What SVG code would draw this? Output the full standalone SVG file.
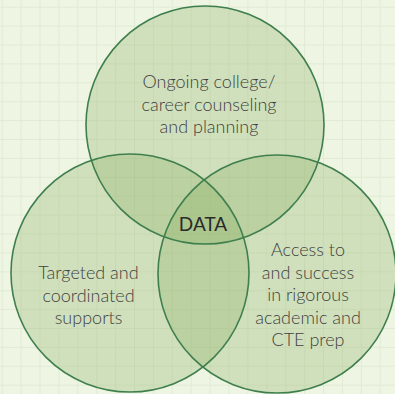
<svg xmlns="http://www.w3.org/2000/svg" width="395" height="394" viewBox="0 0 395 394">
  <defs>
    <pattern id="grid" patternUnits="userSpaceOnUse" x="1.7" y="6.7" width="18.9" height="18.9">
      <rect x="0" y="0" width="18.9" height="18.9" fill="#eef5e2"/>
      <path d="M0 0 H18.9 M0 0 V18.9" stroke="#e1ebd4" stroke-width="2" fill="none"/>
    </pattern>
    <style>
      .fill { fill: rgb(140,177,98); fill-opacity: 0.3; stroke: none; }
      .ring { fill: none; stroke: #3f7f4e; stroke-width: 1.6; }
      .lbl { font-family: Lato, "Open Sans", sans-serif; font-weight: 300; font-size: 18px; fill: #404040; text-anchor: middle; }
      .data { font-family: Lato, "Open Sans", sans-serif; font-weight: 400; font-size: 19px; fill: #2a2a2a; text-anchor: middle; }
    </style>
  </defs>
  <rect width="395" height="394" fill="url(#grid)"/>
  <g id="circle-top">
    <circle class="fill" cx="205" cy="125" r="119"/>
  </g>
  <g id="circle-left">
    <circle class="fill" cx="130" cy="273" r="119"/>
  </g>
  <g id="circle-right">
    <circle class="fill" cx="277" cy="274" r="119"/>
  </g>
  <g id="outlines">
    <circle class="ring" cx="205" cy="125" r="119"/>
    <circle class="ring" cx="130" cy="273" r="119"/>
    <circle class="ring" cx="277" cy="274" r="119"/>
  </g>
  <g id="label-top">
    <text class="lbl" x="209" y="88">Ongoing college/</text>
    <text class="lbl" x="209" y="110.5">career counseling</text>
    <text class="lbl" x="209" y="133">and planning</text>
  </g>
  <g id="label-left">
    <text class="lbl" x="88.5" y="279">Targeted and</text>
    <text class="lbl" x="88.5" y="301.5">coordinated</text>
    <text class="lbl" x="88.5" y="324">supports</text>
  </g>
  <g id="label-right">
    <text class="lbl" x="308" y="256">Access to</text>
    <text class="lbl" x="308" y="278.5">and success</text>
    <text class="lbl" x="308" y="301">in rigorous</text>
    <text class="lbl" x="308" y="323.5">academic and</text>
    <text class="lbl" x="308" y="346">CTE prep</text>
  </g>
  <g id="label-center">
    <text class="data" x="203" y="231">DATA</text>
  </g>
</svg>
